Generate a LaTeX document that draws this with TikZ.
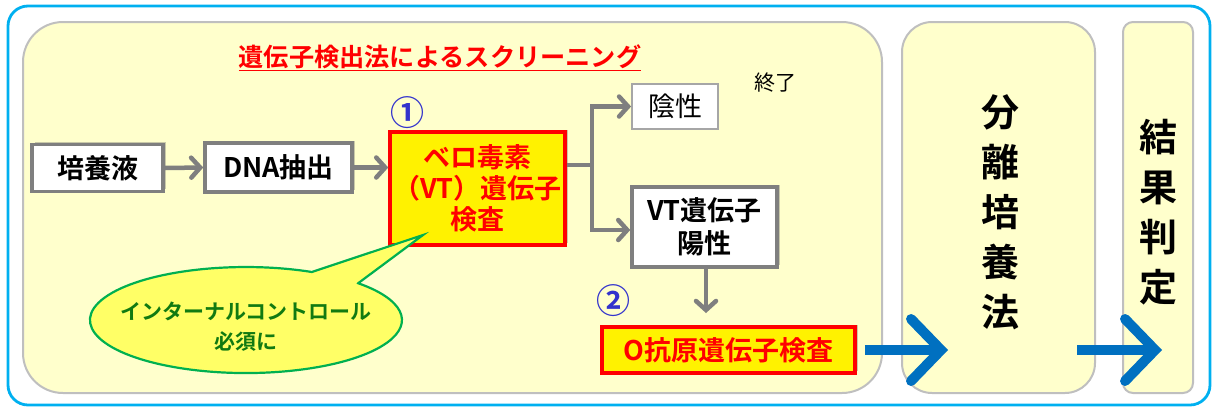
\documentclass[tikz,border=0pt]{standalone}
\usepackage{fontspec}
\setmainfont{Noto Sans CJK JP}[BoldFont={Noto Sans CJK JP Bold}]
\usetikzlibrary{shadows,arrows.meta,calc}
\definecolor{skyb}{HTML}{00B0F0}
\definecolor{paleY}{HTML}{FFFFCC}
\definecolor{brd}{HTML}{BFBFBF}
\definecolor{arrowg}{HTML}{7F7F7F}
\definecolor{blueA}{HTML}{0070C0}
\definecolor{numb}{HTML}{3333CC}
\definecolor{grn}{HTML}{00B050}
\definecolor{dgrn}{HTML}{117A11}
\definecolor{calloutY}{HTML}{FFFF66}
\tikzset{
  shd/.style={drop shadow={shadow xshift=2.5pt,shadow yshift=2.5pt,opacity=0.35,fill=black!60}},
  graybox/.style={draw=arrowg,line width=3.5pt,fill=white,shd,font=\bfseries\fontsize{27}{33}\selectfont,align=center,inner sep=0pt},
  thinbox/.style={draw=black!35,line width=1.8pt,fill=white,font=\fontsize{27}{30}\selectfont,inner sep=0pt},
  redbox/.style={draw=red,line width=3.5pt,fill=yellow,shd,text=red,font=\bfseries\fontsize{27}{31}\selectfont,align=center,inner sep=0pt},
  arr/.style={draw=arrowg,line width=4.5pt,-{Straight Barb[length=9pt,width=20pt,line cap=round]}},
  ln/.style={draw=arrowg,line width=4.5pt},
  blarr/.style={draw=blueA,line width=10pt,-{Straight Barb[length=30pt,width=62pt,line cap=round]}},
  tallbox/.style={draw=brd,line width=2pt,fill=paleY},
  num/.style={text=numb,font=\bfseries\fontsize{34}{34}\selectfont,inner sep=0pt},
}
\begin{document}
\begin{tikzpicture}[x=1pt,y=-1pt]
\useasboundingbox (0,0) rectangle (1213,408);
\draw[skyb,line width=2.8pt,rounded corners=20pt] (8,6) rectangle (1210,405);
% big panels
\draw[tallbox,rounded corners=40pt] (23,22) rectangle (882,393);
\draw[tallbox,rounded corners=30pt] (902,22) rectangle (1095,393);
\draw[tallbox,rounded corners=10pt] (1123,22) rectangle (1193,393);
\coordinate (sepW) at (902,350);
\coordinate (resW) at (1123,350);
\node (sep) at (1000,212) [font=\bfseries\fontsize{38}{50}\selectfont,align=center] {分\\離\\培\\養\\法};
\node (res) at (1158,212) [font=\bfseries\fontsize{38}{50}\selectfont,align=center] {結\\果\\判\\定};
% title
\node (title) at (440,58) [text=red,font=\bfseries\fontsize{25.2}{28}\selectfont] {\underline{遺伝子検出法によるスクリーニング}};
% boxes
\node[graybox,minimum width=131pt,minimum height=47pt] (cul) at (97.5,168) {培養液};
\node[graybox,minimum width=147pt,minimum height=49pt] (dna) at (278.5,167.5) {DNA抽出};
\node[redbox,minimum width=175pt,minimum height=113pt] (vt) at (477.5,188.5) {ベロ毒素\\（VT）遺伝子\\検査};
\node[thinbox,minimum width=86pt,minimum height=45pt] (neg) at (675,106.5) {陰性};
\node[graybox,minimum width=145pt,minimum height=80pt] (pos) at (704.5,227) {VT遺伝子\\陽性};
\node[redbox,minimum width=253pt,minimum height=46pt] (oag) at (728.5,350) {O抗原遺伝子検査};
\node (end) at (775,83) [font=\fontsize{21}{24}\selectfont] {終了};
\node[num] (n1) at (407,113) {①};
\node[num] (n2) at (613,301) {②};
% connectors
\draw[arr] (cul.east) -- (dna.west);
\draw[arr] (dna.east) -- (vt.west |- dna.east);
\coordinate (bj) at (592,165);
\draw[ln] (vt.east |- bj) -- (bj);
\draw[arr] (bj) |- (neg.west);
\draw[arr] (bj) |- ($(pos.west)+(0,3)$);
\coordinate (dn) at (706,313);
\draw[arr] (pos.south -| dn) -- (dn);
\draw[blarr] ($(oag.east)+(8,0)$) -- ($(sepW)+(46,0)$);
\draw[blarr] ($(sepW)+(175,0)$) -- ($(resW)+(39,0)$);
% callout
\draw[grn,fill=calloutY,line width=2.2pt] (358.2,283.2) -- (423,235) -- (311.9,272)
  arc[start angle=-65,end angle=-404,x radius=156,y radius=53] -- cycle;
\node (call) at (246,327) [text=dgrn,font=\bfseries\fontsize{21}{30}\selectfont,align=center] {インターナルコントロール\\必須に};
\end{tikzpicture}
\end{document}
